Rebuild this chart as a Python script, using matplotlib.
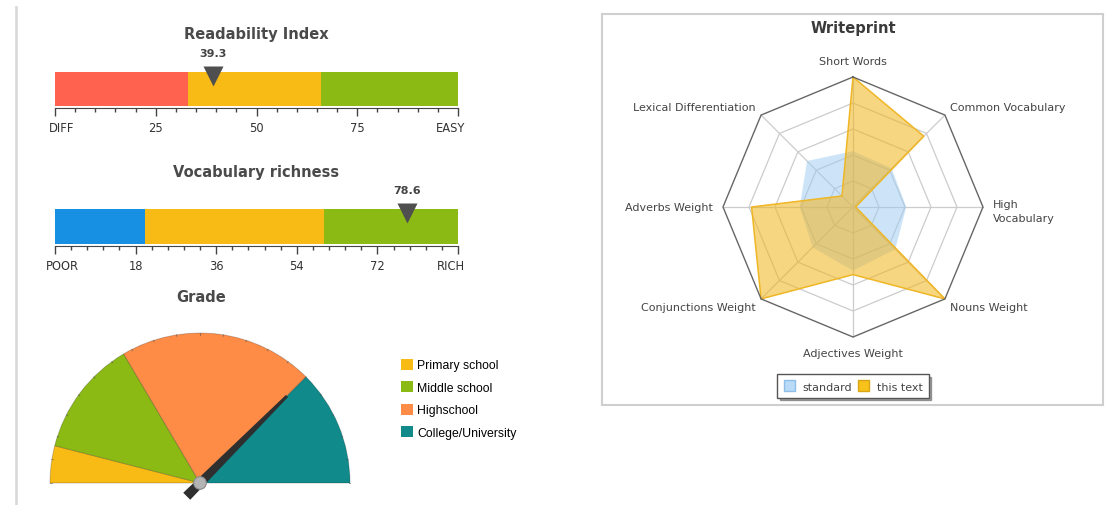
import numpy as np
import matplotlib
matplotlib.use('Agg')
import matplotlib.pyplot as plt
import matplotlib.transforms as mtransforms
from matplotlib.patches import Wedge, Polygon, Circle, Patch
from matplotlib.lines import Line2D
import matplotlib.patheffects as pe

# readability index
read_edges = [0, 33, 66, 100]
read_colors = ['#ff6350', '#f8bb16', '#8cba15']
read_ticks = [0, 25, 50, 75, 100]
read_labels = ['DIFF', '25', '50', '75', 'EASY']
read_value = 39.3

# vocabulary richness
vocab_edges = [0, 20, 60, 90]
vocab_colors = ['#178fe3', '#f8bb16', '#8cba15']
vocab_ticks = [0, 18, 36, 54, 72, 90]
vocab_labels = ['POOR', '18', '36', '54', '72', 'RICH']
vocab_value = 78.6

# grade
grade_names = ['Primary school', 'Middle school', 'Highschool', 'College/University']
grade_edges = [0, 8, 33, 75, 100]
grade_colors = ['#f8bb16', '#8cba15', '#fe8c46', '#108a8a']
grade_value = 75

# writeprint
radar_labels = ['Short Words', 'Common Vocabulary', 'High\nVocabulary', 'Nouns Weight',
                'Adjectives Weight', 'Conjunctions Weight', 'Adverbs Weight',
                'Lexical Differentiation']
standard = [2.15, 2.1, 2.05, 2.3, 2.45, 2.2, 2.05, 2.5]
this_text = [5, 3.85, 0.1, 5, 2.6, 5, 3.9, 0.6]

W, H = 1111, 506
fig = plt.figure(figsize=(W / 100, H / 100), dpi=100)
fig.patch.set_facecolor('white')


def px_axes(x0, y0, x1, y1):
    return fig.add_axes([x0 / W, 1 - y1 / H, (x1 - x0) / W, (y1 - y0) / H])


def px_text(x, y, s, **kw):
    fig.text(x / W, 1 - y / H, s, **kw)


def linear_gauge(box, edges, colors, ticks, labels, value, minor):
    ax = px_axes(*box)
    ax.barh(0.5, np.diff(edges), left=edges[:-1], height=1, color=colors,
            edgecolor='none',
            path_effects=[pe.SimplePatchShadow(offset=(1.5, -1.5), shadow_rgbFace='#999', alpha=0.4),
                          pe.Normal()])
    ax.set_xlim(edges[0], edges[-1])
    ax.set_ylim(0, 1)
    for s in ['top', 'right', 'left']:
        ax.spines[s].set_visible(False)
    ax.spines['bottom'].set_color('#444')
    ax.spines['bottom'].set_position(('outward', 1.5))
    ax.set_yticks([])
    ax.set_xticks(ticks, labels)
    ax.set_xticks(np.arange(edges[0], edges[-1] + 0.01, minor), minor=True)
    ax.tick_params(axis='x', which='major', length=6, width=1, color='#444',
                   labelsize=8.3, labelcolor='#333', pad=3)
    ax.tick_params(axis='x', which='minor', length=3, width=1, color='#444')
    # end labels sit a little inside the bar ends
    tl = ax.get_xticklabels()
    tl[0].set_transform(tl[0].get_transform() + mtransforms.ScaledTranslation(7 / 100, 0, fig.dpi_scale_trans))
    tl[-1].set_transform(tl[-1].get_transform() + mtransforms.ScaledTranslation(-7 / 100, 0, fig.dpi_scale_trans))
    ax.plot(value, 0.89, marker='v', ms=15, color='#4f4f4f', mec='none', clip_on=False)
    ax.text(value, 1.55, f'{value}', ha='center', va='center', fontsize=8,
            fontweight='bold', color='#444')
    return ax


title_kw = dict(ha='center', va='center', fontsize=10.5, fontweight='bold', color='#4a4a4a')

px_text(256, 35, 'Readability Index', **title_kw)
linear_gauge((55, 73, 458, 107), read_edges, read_colors, read_ticks, read_labels, read_value, 5)

px_text(256, 172, 'Vocabulary richness', **title_kw)
linear_gauge((55, 210, 458, 245), vocab_edges, vocab_colors, vocab_ticks, vocab_labels, vocab_value, 3.6)

# grade gauge
px_text(201, 297, 'Grade', **title_kw)
axg = px_axes(40, 324, 360, 506)
axg.set_xlim(-160 / 150, 160 / 150)
axg.set_ylim(-22 / 150, 160 / 150)
axg.axis('off')
span = grade_edges[-1] - grade_edges[0]


def ang(v):
    return 180 - 180 * (v - grade_edges[0]) / span


for i in range(len(grade_names)):
    axg.add_patch(Wedge((0, 0), 1, ang(grade_edges[i + 1]), ang(grade_edges[i]),
                        facecolor=grade_colors[i], edgecolor=(0, 0, 0, 0.2), lw=0.7,
                        label=grade_names[i]))
for v in np.arange(grade_edges[0], grade_edges[-1] + 0.01, 5):
    a = np.radians(ang(v))
    axg.plot([0.99 * np.cos(a), np.cos(a)], [0.99 * np.sin(a), np.sin(a)],
             color='#555', lw=0.6, alpha=0.7)

a = np.radians(ang(grade_value))
d = np.array([np.cos(a), np.sin(a)])
n = np.array([-d[1], d[0]])
tip = 0.82 * d
tail = -0.125 * d
axg.add_patch(Polygon([tail + 0.033 * n, tip + 0.01 * n, tip - 0.01 * n, tail - 0.033 * n],
                      closed=True, facecolor='#2f2f2f', edgecolor='none', zorder=5))
axg.add_patch(Circle((0, 0), 0.042, facecolor='#b3b3b3', edgecolor='#8a8a8a', lw=0.8, zorder=6))

handles = [Patch(facecolor=c, edgecolor='none') for c in grade_colors]
axg.legend(handles, grade_names, loc='upper left', bbox_to_anchor=(401 / W, 1 - 360 / H),
           bbox_transform=fig.transFigure, frameon=False, borderpad=0, borderaxespad=0,
           handlelength=0.95, handleheight=0.95, handletextpad=0.4, labelspacing=0.82,
           prop={'family': 'Liberation Sans', 'size': 8.8})

# writeprint radar
cx, cy, R = 853, 208, 26
axr = px_axes(602, 15, 1103, 406)
axr.set_xlim((602 - cx) / R, (1103 - cx) / R)
axr.set_ylim((cy - 406) / R, (cy - 15) / R)
axr.set_xticks([])
axr.set_yticks([])
for s in axr.spines.values():
    s.set_color('#cfcfcf')
    s.set_linewidth(1.5)

k = len(radar_labels)
theta = np.radians(90 - 360 / k * np.arange(k))
ux, uy = np.cos(theta), np.sin(theta)
ring_x = np.append(ux, ux[0])
ring_y = np.append(uy, uy[0])
for r in range(1, 5):
    axr.plot(r * ring_x, r * ring_y, color='#cccccc', lw=0.9, zorder=1)
for i in range(k):
    axr.plot([0, 5 * ux[i]], [0, 5 * uy[i]], color='#cccccc', lw=0.9, zorder=1)

std = np.array(standard)
txt = np.array(this_text)
axr.fill(std * ux, std * uy, facecolor='#9ccbf2', alpha=0.5, edgecolor='none', zorder=2)
axr.fill(txt * ux, txt * uy, facecolor='#f2b51c', alpha=0.55, edgecolor='none', zorder=3)
axr.plot(np.append(txt * ux, txt[0] * ux[0]), np.append(txt * uy, txt[0] * uy[0]),
         color='#efb625', lw=1.1, zorder=4)
axr.plot(5 * ring_x, 5 * ring_y, color='#666666', lw=1, zorder=4)

for i, lab in enumerate(radar_labels):
    c, s = ux[i], uy[i]
    if abs(c) < 0.1:
        x, y = 0, 5.6 * np.sign(s)
        ha = 'center'
    elif abs(s) < 0.1:
        x, y = 5.38 * np.sign(c), 0
        ha = 'left' if c > 0 else 'right'
    else:
        x, y = 5.3 * c, 5.3 * s + 0.1 * np.sign(s)
        ha = 'left' if c > 0 else 'right'
    va = 'center'
    if '\n' in lab:
        va = 'top'
        y = y + 0.3
    axr.text(x, y, lab, ha=ha, va=va, fontsize=8, color='#444', linespacing=1.45)

axr.text(0, (cy - 29) / R, 'Writeprint', ha='center', va='center', fontsize=10.5,
         fontweight='bold', color='#3a3a3a')

leg_handles = [Patch(facecolor='#b9dbf7', edgecolor='#8fbfe8'),
               Patch(facecolor='#f8c21b', edgecolor='#d9a514')]
leg = axr.legend(leg_handles, ['standard', 'this text'], loc='center',
                 bbox_to_anchor=(853 / W, 1 - 387 / H), bbox_transform=fig.transFigure,
                 ncol=2, fancybox=False, shadow=True, edgecolor='#555', fontsize=8,
                 handlelength=1.0, handleheight=1.1, columnspacing=0.5, handletextpad=0.7,
                 borderpad=0.55)
for t in leg.get_texts():
    t.set_color('#444')
leg.get_frame().set_linewidth(1)

fig.add_artist(Line2D([16 / W, 16 / W], [0, 1 - 8 / H], color='#dadada', lw=2))

fig.savefig('out.png', dpi=100)
